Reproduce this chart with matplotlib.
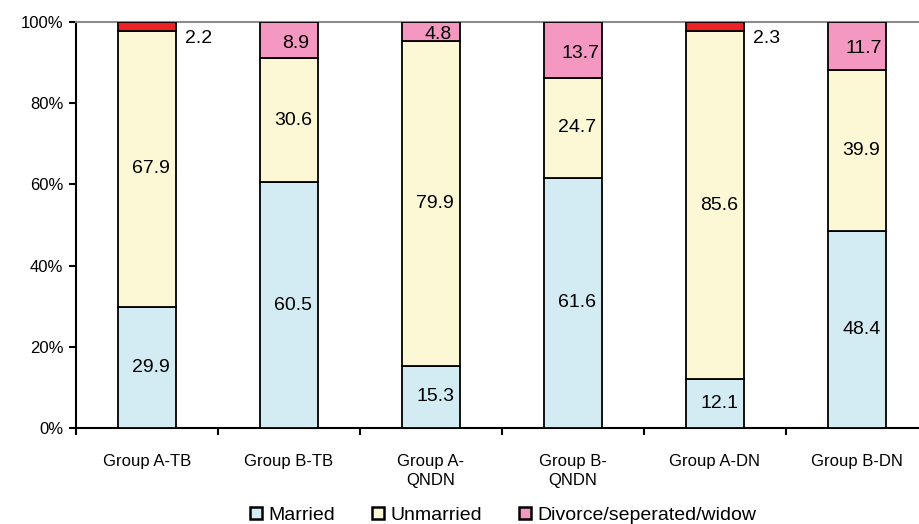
import numpy as np
import matplotlib.pyplot as plt
from matplotlib.patches import Patch

plt.rcParams['font.family'] = ['Liberation Sans', 'DejaVu Sans']

# marital status by group (percent)
groups = ['Group A-TB', 'Group B-TB', 'Group A-\nQNDN', 'Group B-\nQNDN', 'Group A-DN', 'Group B-DN']
married = [29.9, 60.5, 15.3, 61.6, 12.1, 48.4]
unmarried = [67.9, 30.6, 79.9, 24.7, 85.6, 39.9]
divorced = [2.2, 8.9, 4.8, 13.7, 2.3, 11.7]
# small divorce shares get a red cap and an outside label
small_share = [True, False, False, False, True, False]

c_married = '#D3ECF4'
c_unmarried = '#FCF8D5'
c_divorced = '#F497C1'
c_small = '#EE2127'

fig = plt.figure(figsize=(9.2, 5.24), dpi=100)
ax = fig.add_axes([76 / 920, 96 / 524, 852 / 920, 406 / 524])

x = np.arange(len(groups))
w = 0.41
m = np.array(married)
u = np.array(unmarried)
d = np.array(divorced)
top_colors = [c_small if s else c_divorced for s in small_share]

ax.bar(x, m, w, color=c_married, edgecolor='black', linewidth=1.3, zorder=3)
ax.bar(x, u, w, bottom=m, color=c_unmarried, edgecolor='black', linewidth=1.3, zorder=3)
ax.bar(x, d, w, bottom=m + u, color=top_colors, edgecolor='black', linewidth=1.3, zorder=3)

fs = 14
for i in range(len(groups)):
    ax.text(x[i] + 0.03, m[i] / 2, '%.1f' % m[i], ha='center', va='center', fontsize=fs, zorder=4)
    ax.text(x[i] + 0.03, m[i] + u[i] / 2, '%.1f' % u[i], ha='center', va='center', fontsize=fs, zorder=4)
    if small_share[i]:
        ax.text(x[i] + 0.36, 96, '%.1f' % d[i], ha='center', va='center', fontsize=fs, zorder=4)
    else:
        ax.text(x[i] + 0.05, m[i] + u[i] + d[i] / 2 - 0.8, '%.1f' % d[i], ha='center', va='center',
                fontsize=fs, zorder=4)

ax.set_xlim(-0.5, len(groups) - 0.5)
ax.set_ylim(0, 100)
ax.set_yticks(np.arange(0, 101, 20))
ax.set_yticklabels(['%d%%' % v for v in range(0, 101, 20)], fontsize=12)
ax.set_xticks(x)
ax.set_xticklabels(groups, fontsize=12, linespacing=1.3)
ax.set_xticks(np.arange(-0.5, len(groups), 1), minor=True)
ax.tick_params(axis='x', which='major', length=0, pad=19)
ax.tick_params(axis='x', which='minor', length=5, width=1.5, direction='out')
ax.tick_params(axis='y', length=5, width=1.5, direction='out', pad=4)

for s in ['left', 'bottom']:
    ax.spines[s].set_linewidth(1.5)
ax.spines['top'].set_color('#8C8C8C')
ax.spines['top'].set_linewidth(1.5)
ax.spines['right'].set_visible(False)

handles = [Patch(facecolor=c_married, edgecolor='black', linewidth=1.8),
           Patch(facecolor=c_unmarried, edgecolor='black', linewidth=1.8),
           Patch(facecolor=c_divorced, edgecolor='black', linewidth=1.8)]
fig.legend(handles, ['Married', 'Unmarried', 'Divorce/seperated/widow'],
           loc='center', bbox_to_anchor=(0.547, 0.017), ncol=3, frameon=False,
           fontsize=14, handlelength=0.6, handleheight=0.6, handletextpad=0.35,
           columnspacing=1.9, borderaxespad=0)

fig.savefig('out.png', dpi=100)
